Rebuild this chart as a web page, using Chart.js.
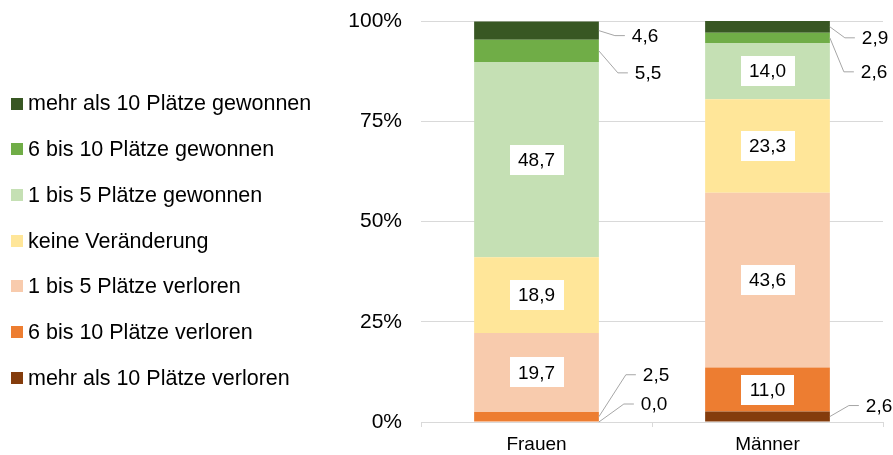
<!DOCTYPE html>
<html>
<head>
<meta charset="utf-8">
<script src="https://cdn.jsdelivr.net/npm/chart.js"></script>
<style>
  html, body { margin: 0; padding: 0; background: #fff; }
</style>
</head>
<body>
<canvas id="myChart" width="893" height="455"></canvas>
<script>
// categories
const groups = ["Frauen", "Männer"];

// series, bottom of the stack first
const seriesNames = [
  "mehr als 10 Plätze verloren",
  "6 bis 10 Plätze verloren",
  "1 bis 5 Plätze verloren",
  "keine Veränderung",
  "1 bis 5 Plätze gewonnen",
  "6 bis 10 Plätze gewonnen",
  "mehr als 10 Plätze gewonnen"
];
const mehrVerloren  = [0.0, 2.6];
const sechsVerloren = [2.5, 11.0];
const einsVerloren  = [19.7, 43.6];
const keineAenderung = [18.9, 23.3];
const einsGewonnen  = [48.7, 14.0];
const sechsGewonnen = [5.5, 2.6];
const mehrGewonnen  = [4.6, 2.9];

const yTicks = [0, 25, 50, 75, 100];

const seriesValues = [mehrVerloren, sechsVerloren, einsVerloren, keineAenderung, einsGewonnen, sechsGewonnen, mehrGewonnen];
const seriesColors = ["#843c0c", "#ed7d31", "#f8cbad", "#ffe699", "#c5e0b4", "#70ad47", "#385723"];

const FONT = "'Liberation Sans', Arial, sans-serif";

// leader lines for small segments: "dataset-category": [dy from segment middle, elbow dx from bar edge]
const callouts = {
  "6-0": [5, 16], "5-0": [22, 19], "1-0": [-42, 27], "0-0": [-18, 25],
  "6-1": [11, 15], "5-1": [34, 14], "0-1": [-11, 19]
};

function fmt(v) {
  return v.toFixed(1).replace(".", ",");
}

const labelPlugin = {
  id: "barLabels",
  afterDatasetsDraw(chart) {
    const ctx = chart.ctx;
    ctx.save();
    ctx.font = "19px " + FONT;
    ctx.textBaseline = "middle";
    chart.data.datasets.forEach(function(ds, di) {
      const meta = chart.getDatasetMeta(di);
      meta.data.forEach(function(el, ci) {
        const v = ds.data[ci];
        const mid = (el.y + el.base) / 2;
        const key = di + "-" + ci;
        if (callouts[key]) {
          const right = el.x + el.width / 2;
          const c = callouts[key];
          const ly = mid + c[0];
          ctx.strokeStyle = "#a6a6a6";
          ctx.lineWidth = 1;
          ctx.beginPath();
          ctx.moveTo(right, mid);
          ctx.lineTo(right + c[1], ly);
          ctx.lineTo(right + c[1] + 10, ly);
          ctx.stroke();
          ctx.fillStyle = "#000";
          ctx.textAlign = "left";
          ctx.fillText(fmt(v), right + c[1] + 17, ly + 1);
        } else {
          const txt = fmt(v);
          const w = ctx.measureText(txt).width + 17;
          const h = 30;
          ctx.fillStyle = "#fff";
          ctx.fillRect(Math.round(el.x - w / 2), Math.round(mid - h / 2), Math.round(w), h);
          ctx.fillStyle = "#000";
          ctx.textAlign = "center";
          ctx.fillText(txt, el.x, mid + 1);
        }
      });
    });
    ctx.restore();
  }
};

const legendPlugin = {
  id: "sideLegend",
  afterDraw(chart) {
    const ctx = chart.ctx;
    ctx.save();
    ctx.font = "21.5px " + FONT;
    ctx.textBaseline = "middle";
    ctx.textAlign = "left";
    const n = chart.data.datasets.length;
    for (let k = 0; k < n; k++) {
      const ds = chart.data.datasets[n - 1 - k];
      const y = 103.5 + k * 45.7;
      ctx.fillStyle = ds.backgroundColor;
      ctx.fillRect(11, Math.round(y - 6), 12, 12);
      ctx.fillStyle = "#000";
      ctx.fillText(ds.label, 28, y + 1);
    }
    ctx.restore();
  }
};

new Chart("myChart", {
  type: "bar",
  data: {
    labels: groups,
    datasets: seriesNames.map(function(name, i) {
      return {
        label: name,
        data: seriesValues[i],
        backgroundColor: seriesColors[i],
        borderWidth: 0,
        barPercentage: 0.54,
        categoryPercentage: 1
      };
    })
  },
  options: {
    responsive: false,
    animation: false,
    layout: { padding: { left: 330, top: 21, right: 10, bottom: 0 } },
    plugins: {
      legend: { display: false },
      tooltip: { enabled: false }
    },
    scales: {
      x: {
        stacked: true,
        offset: true,
        afterFit: function(s) { s.height = 33; },
        grid: { offset: true, drawOnChartArea: false, drawTicks: true, tickLength: 5, color: "#d9d9d9" },
        border: { display: true, color: "#d9d9d9" },
        ticks: { color: "#000", padding: 6, font: { family: FONT, size: 19 } }
      },
      y: {
        stacked: true,
        min: 0,
        max: 100,
        afterFit: function(s) { s.width = 91; },
        afterBuildTicks: function(s) { s.ticks = yTicks.map(function(v) { return { value: v }; }); },
        grid: { color: "#d9d9d9", drawTicks: true, tickLength: 19, tickColor: "rgba(0,0,0,0)" },
        border: { display: false },
        ticks: {
          color: "#000",
          padding: 0,
          font: { family: FONT, size: 21 },
          callback: function(v) { return v + "%"; }
        }
      }
    }
  },
  plugins: [labelPlugin, legendPlugin]
});
</script>
</body>
</html>
